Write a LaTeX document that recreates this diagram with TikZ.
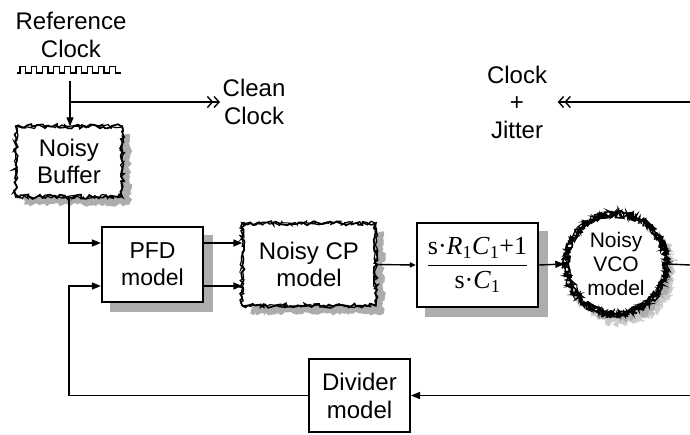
\documentclass[tikz,border=0pt]{standalone}
\usepackage{fontspec}
\setmainfont{Liberation Sans}
\newfontfamily\serifrm{Liberation Serif}
\usetikzlibrary{arrows.meta,decorations.pathmorphing,calc,backgrounds}
\begin{document}
\begin{tikzpicture}[x=1pt,y=-1pt,line width=1.4pt,
  font=\fontsize{24}{27.5}\selectfont,
  arr/.style={-{Triangle[length=9pt,width=7pt]}},
  sarr/.style={-{Triangle[length=6pt,width=5pt]}},
  dbl/.style={-{Straight Barb[length=5pt,width=11pt,line width=1.4pt]Straight Barb[length=5pt,width=11pt,line width=1.4pt]}},
  box/.style={draw,line width=2.2pt,fill=white,align=center,inner sep=0pt},
  nbox/.style={align=center,inner sep=0pt},
  lbl/.style={align=center,inner sep=2pt},
  rough/.style={decorate,decoration={random steps,segment length=2.8pt,amplitude=2.2pt}},
  spiky/.style={decorate,decoration={random steps,segment length=1.3pt,amplitude=3.8pt}},
  shade/.style={fill=black!32},
  vfont/.style={font=\fontsize{21}{24}\selectfont}]
\useasboundingbox (0,0) rectangle (690,435);
\pgfmathsetseed{11}

% nodes
\node[lbl] (ref) at (71,35) {Reference\\Clock};
\node[lbl,anchor=west] (clean) at (220,102) {Clean\\Clock};
\node[lbl,inner xsep=10pt] (cj) at (517,102) {Clock\\+\\Jitter};
\node[nbox,minimum width=105pt,minimum height=69pt] (buf) at (69,161.5) {Noisy\\Buffer};
\node[box,minimum width=101pt,minimum height=75pt,font=\fontsize{23}{27}\selectfont] (pfd) at (152.5,264.5) {PFD\\model};
\node[nbox,minimum width=132pt,minimum height=81pt] (cp) at (309,264.5) {Noisy CP\\model};
\node[box,minimum width=121pt,minimum height=84pt] (filt) at (477.5,265)
  {\serifrm\fontsize{26}{30}\selectfont
   $\displaystyle\frac{\mbox{s·\textit{R}\textsubscript{1}\textit{C}\textsubscript{1}+1}}{\mbox{s·\textit{C}\textsubscript{1}}}$};
\node[circle,minimum size=102pt,inner sep=0pt,align=center,vfont] (vco) at (616,264) {Noisy\\VCO\\model};
\node[box,line width=2pt,minimum width=101pt,minimum height=73pt,font=\fontsize{24}{28}\selectfont] (div) at (359.5,395.5) {Divider\\model};

% shadows and rough outlines
\begin{scope}[on background layer]
  \fill[shade] ($(pfd.north west)+(9,9)$) rectangle ($(pfd.south east)+(9,9)$);
  \fill[shade] ($(filt.north west)+(9,9)$) rectangle ($(filt.south east)+(9,9)$);
  \fill[shade,rough] ($(buf.north west)+(8,8)$) rectangle ($(buf.south east)+(8,8)$);
  \fill[shade,rough] ($(cp.north west)+(8,8)$) rectangle ($(cp.south east)+(8,8)$);
  \fill[black!20,spiky] ($(vco.center)+(6,7)$) circle (53pt);
  \fill[black!32,spiky] ($(vco.center)+(4,5)$) circle (51pt);
\end{scope}
\fill[white,draw=black,line width=1.7pt,rough] (buf.north west) rectangle (buf.south east);
\draw[line width=1.2pt,rough] (buf.north west) rectangle (buf.south east);
\fill[white,draw=black,line width=1.7pt,rough] (cp.north west) rectangle (cp.south east);
\draw[line width=1.2pt,rough] (cp.north west) rectangle (cp.south east);
\fill[white,draw=black,line width=1.6pt,spiky] (vco.center) circle (50pt);
\draw[line width=1.4pt,spiky] (vco.center) circle (50pt);
\draw[line width=1.2pt,spiky] (vco.center) circle (50pt);
\node[nbox] at (buf) {Noisy\\Buffer};
\node[nbox] at (cp) {Noisy CP\\model};
\node[align=center,inner sep=0pt,vfont] at (vco) {Noisy\\VCO\\model};

% square wave of the reference clock
\draw[line width=1.1pt] (17,73) -- (20,73)
  \foreach \i in {0,...,8} { -- ++(0,-6.5) -- ++(5.6,0) -- ++(0,6.5) -- ++(5.6,0) };

% coordinates for free ends and ports
\coordinate (refout) at (70,81);
\coordinate (j1) at (70,102);
\coordinate (rtop) at (690,102);
\coordinate (rmid) at (690,265);
\coordinate (rbot) at (690,395.5);
\coordinate (pfdin1) at ($(pfd.west)+(0,-21.5)$);
\coordinate (pfdin2) at ($(pfd.west)+(0,21.5)$);
\coordinate (pfdout1) at ($(pfd.east)+(0,-21.5)$);
\coordinate (pfdout2) at ($(pfd.east)+(0,21.5)$);

% connectors
\draw[arr] (refout) -- (buf.north -| refout);
\draw[dbl] (j1) -- (clean.west);
\draw[dbl] (rtop) -- (cj.east |- rtop);
\draw[arr] (buf.south) |- (pfdin1);
\draw[arr] (pfdout1) -- (cp.west |- pfdout1);
\draw[arr] (pfdout2) -- (cp.west |- pfdout2);
\draw[sarr] (cp.east) -- (filt.west);
\draw[arr] (filt.east) -- (vco.west);
\draw (vco.east) -- (rmid);
\draw[arr] (rbot) -- (div.east);
\draw[arr] (div.west) -| (buf.south |- pfdin2) -- (pfdin2);
\end{tikzpicture}
\end{document}
